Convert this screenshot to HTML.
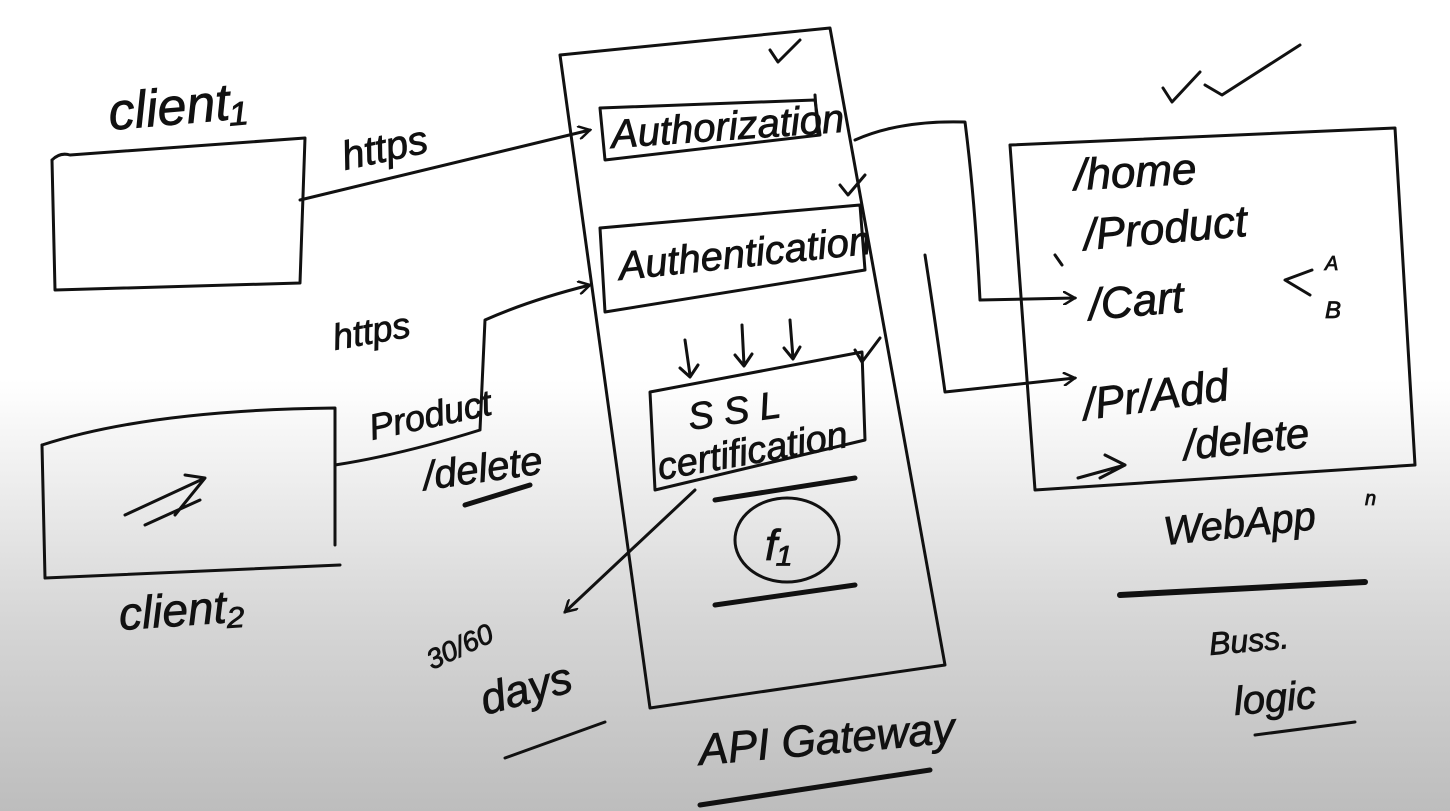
<!DOCTYPE html>
<html><head><meta charset="utf-8">
<style>
html,body{margin:0;padding:0;}
body{width:1450px;height:811px;overflow:hidden;background:linear-gradient(to bottom,#ffffff 0px,#ffffff 380px,#d6d6d6 620px,#bdbdbd 811px);}
svg{position:absolute;left:0;top:0;}
text{font-family:"Liberation Sans",sans-serif;fill:#111;stroke:#111;stroke-width:0.8;font-style:italic;}
</style></head>
<body>
<svg width="1450" height="811" viewBox="0 0 1450 811">
<defs>
<marker id="ah" markerWidth="14" markerHeight="14" refX="12" refY="7" orient="auto" markerUnits="userSpaceOnUse">
<path d="M0,0 L12,7 L0,14" fill="none" stroke="#111" stroke-width="2.5"/>
</marker>
</defs>
<g fill="none" stroke="#111" stroke-width="3" stroke-linecap="round" stroke-linejoin="round">
<path d="M52,160 Q60,152 70,155 L305,138 L300,283 L55,290 L52,160"/>
<path d="M300,200 L590,130" marker-end="url(#ah)"/>
<path d="M560,55 L830,28 L945,665 L650,708 L560,55"/>
<path d="M600,108 L815,100 L820,135 L605,160 Z"/>
<path d="M815,95 L818,135"/>
<path d="M600,228 L860,205 L865,270 L605,312 Z"/>
<path d="M650,392 L862,352 L865,440 L655,490 Z"/>
<path d="M685,340 L690,375 M680,368 L690,377 L698,365"/>
<path d="M742,325 L744,365 M735,355 L744,366 L752,354"/>
<path d="M790,320 L793,358 M784,348 L793,359 L800,347"/>
<ellipse cx="787" cy="540" rx="52" ry="42"/>
<path d="M715,500 L855,478" stroke-width="5"/>
<path d="M715,605 L855,585" stroke-width="5"/>
<path d="M770,50 L778,62 L800,40"/>
<path d="M840,185 L848,195 L865,175"/>
<path d="M855,350 L862,362 L880,338"/>
<path d="M1163,88 L1172,102 L1200,72"/>
<path d="M1205,85 L1222,95 L1300,45"/>
<path d="M42,445 Q150,410 335,408 L335,545"/>
<path d="M42,445 L45,578 M45,578 L340,565"/>
<path d="M125,515 L205,478 M145,525 L200,500 M185,475 L205,478 L175,515"/>
<path d="M335,465 Q400,455 480,430 L485,320 Q530,300 590,285" marker-end="url(#ah)"/>
<path d="M465,505 L530,485" stroke-width="5"/>
<path d="M695,490 L565,612" marker-end="url(#ah)"/>
<path d="M505,758 L605,722" />
<path d="M700,805 L930,770" stroke-width="5"/>
<path d="M855,140 Q900,120 965,122 Q975,200 980,300 L1075,298" marker-end="url(#ah)"/>
<path d="M925,255 Q935,320 945,392 L1075,378" marker-end="url(#ah)"/>
<path d="M1010,145 L1395,128 L1415,465 L1035,490 Z"/>
<path d="M1078,478 L1125,465 M1105,455 L1125,465 L1100,478"/>
<path d="M1120,595 L1365,582" stroke-width="6"/>
<path d="M1255,735 L1355,722"/>
<path d="M1055,255 L1062,265"/>
<path d="M1310,295 L1285,280 L1312,270" stroke-width="3"/>
</g>
<text x="110" y="130" font-size="52" transform="rotate(-5 110 130)">client₁</text>
<text x="345" y="170" font-size="40" transform="rotate(-12 345 170)">https</text>
<text x="612" y="148" font-size="40" transform="rotate(-4 612 148)">Authorization</text>
<text x="620" y="280" font-size="40" transform="rotate(-6 620 280)">Authentication</text>
<text x="690" y="430" font-size="38" transform="rotate(-8 690 430)">S S L</text>
<text x="660" y="480" font-size="38" transform="rotate(-10 660 480)">certification</text>
<text x="765" y="560" font-size="44">f₁</text>
<text x="335" y="350" font-size="36" transform="rotate(-10 335 350)">https</text>
<text x="372" y="440" font-size="36" transform="rotate(-12 372 440)">Product</text>
<text x="425" y="490" font-size="40" transform="rotate(-8 425 490)">/delete</text>
<text x="120" y="630" font-size="46" transform="rotate(-4 120 630)">client₂</text>
<text x="432" y="670" font-size="28" transform="rotate(-25 432 670)">30/60</text>
<text x="485" y="715" font-size="44" transform="rotate(-15 485 715)">days</text>
<text x="700" y="765" font-size="44" transform="rotate(-5 700 765)">API Gateway</text>
<text x="1075" y="190" font-size="44" transform="rotate(-3 1075 190)">/home</text>
<text x="1085" y="250" font-size="44" transform="rotate(-5 1085 250)">/Product</text>
<text x="1090" y="320" font-size="44" transform="rotate(-5 1090 320)">/Cart</text>
<text x="1325" y="270" font-size="20">A</text>
<text x="1325" y="318" font-size="24">B</text>
<text x="1085" y="420" font-size="44" transform="rotate(-8 1085 420)">/Pr/Add</text>
<text x="1185" y="460" font-size="42" transform="rotate(-6 1185 460)">/delete</text>
<text x="1165" y="545" font-size="40" transform="rotate(-6 1165 545)">WebApp</text>
<text x="1365" y="505" font-size="20">n</text>
<text x="1210" y="655" font-size="32" transform="rotate(-5 1210 655)">Buss.</text>
<text x="1235" y="715" font-size="40" transform="rotate(-5 1235 715)">logic</text>
</svg>
</body></html>
